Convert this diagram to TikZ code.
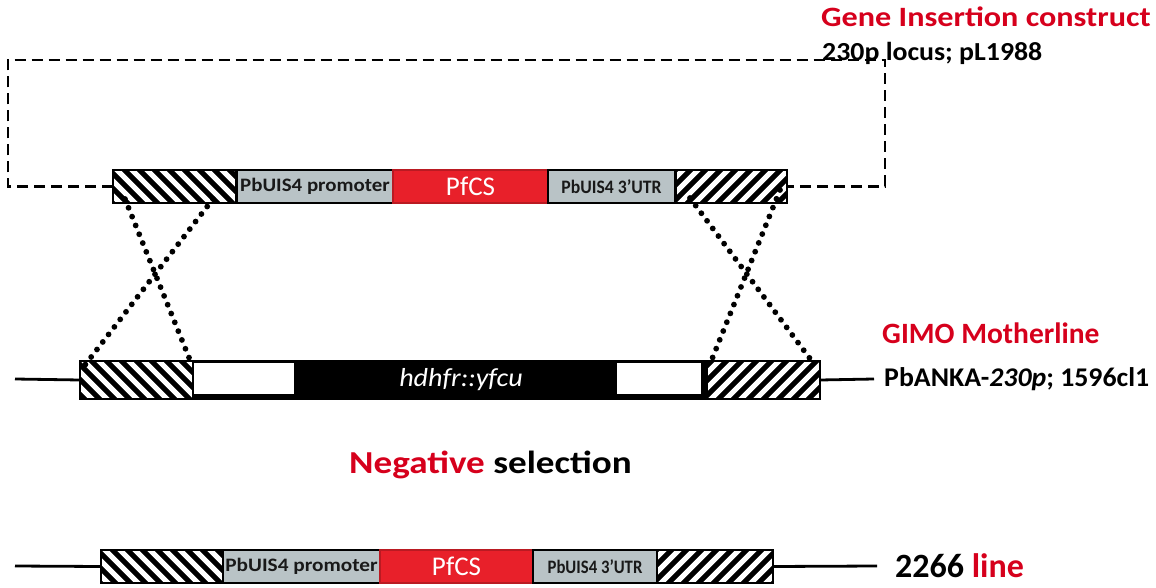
\documentclass[tikz,border=0pt]{standalone}
\usepackage{fontspec}
\usepackage{graphicx}
\setmainfont{Carlito}
\usetikzlibrary{calc}

\definecolor{labelred}{HTML}{D6001C}
\definecolor{boxred}{HTML}{E8202A}
\definecolor{utrgrey}{HTML}{B9C3C6}

% horizontally widened text
\newcommand{\wide}[2]{\scalebox{#1}[1]{#2}}

\tikzset{
  box/.style={draw=black, line width=2pt, inner sep=0pt, outer sep=0pt, anchor=north west},
  hatchback/.style={box, fill=black, path picture={
      \coordinate (hnw) at (path picture bounding box.north west);
      \foreach \k in {-3,...,12}
        \draw[white, line width=5pt] ([xshift=\k*15pt, yshift=4pt]hnw) -- ++(50pt,-50pt);
    }},
  hatchfwd/.style={box, fill=black, path picture={
      \coordinate (hsw) at (path picture bounding box.south west);
      \foreach \k in {-3,...,12}
        \draw[white, line width=5pt] ([xshift=\k*15pt, yshift=-4pt]hsw) -- ++(50pt,50pt);
    }},
  greybox/.style={box, fill=utrgrey, font=\bfseries\fontsize{19}{19}\selectfont, text=black!90},
  redbox/.style={box, fill=boxred, draw=boxred!80!black, font=\fontsize{27}{27}\selectfont, text=white},
  whitebox/.style={box, fill=white, draw=white},
  dashframe/.style={line width=2.8pt, dash pattern=on 11pt off 6pt},
  crossover/.style={line width=5.8pt, dash pattern=on 0pt off 9.5pt, line cap=round},
  chrom/.style={line width=2.8pt},
  txt/.style={anchor=west, inner sep=0pt},
}

\begin{document}
\begin{tikzpicture}[x=1pt, y=-1pt]
\useasboundingbox (0,0) rectangle (1156,588);

% ---------- gene insertion construct ----------
\node[hatchback, minimum width=123pt, minimum height=33pt] (tL) at (113,170) {};
\node[greybox, minimum width=156pt, minimum height=33pt] (tP) at (237,170) {\wide{1.1}{PbUIS4 promoter}};
\node[redbox, minimum width=155pt, minimum height=33pt] (tC) at (393,170) {PfCS};
\node[greybox, minimum width=127pt, minimum height=33pt] (tU) at (548,170) {\wide{0.93}{PbUIS4 3'UTR}};
\node[hatchfwd, minimum width=111pt, minimum height=33pt] (tR) at (676,170) {};

\coordinate (fTL) at (8,60);
\coordinate (fTR) at (885,60);
\draw[dashframe] (tL.west) -| (fTL) -- (fTR) |- (tR.east);

\node[txt, font=\bfseries\fontsize{28}{30}\selectfont, text=labelred] (gic) at (821,17)
  {\wide{1.15}{Gene Insertion construct}};
\node[txt, font=\bfseries\fontsize{26}{28}\selectfont] (loc) at (822,53)
  {\wide{1.07}{230p locus; pL1988}};

% ---------- GIMO motherline ----------
\node[box, fill=black, minimum width=740pt, minimum height=38pt] (mB) at (80,361) {};
\node[hatchback, minimum width=113pt, minimum height=38pt] (mL) at (80,361) {};
\node[whitebox, minimum width=98pt, minimum height=29pt] (mW1) at (195,364) {};
\node[whitebox, minimum width=82pt, minimum height=29pt] (mW2) at (618,364) {};
\node[hatchfwd, minimum width=113pt, minimum height=38pt] (mR) at (707,361) {};
\node[font=\itshape\fontsize{26}{26}\selectfont, text=white] (mG) at (461,380) {\wide{1.08}{hdhfr::yfcu}};

\coordinate (mLend) at (15,379);
\coordinate (mRend) at (874,379);
\draw[chrom] (mLend) -- (mB.west);
\draw[chrom] (mB.east) -- (mRend);

\node[txt, font=\bfseries\fontsize{29.5}{32}\selectfont, text=labelred] (gimo) at (882,333) {GIMO Motherline};
\node[txt, font=\bfseries\fontsize{27}{29}\selectfont] (pba) at (884,379)
  {\wide{1.03}{PbANKA-\textit{230p}; 1596cl1}};

% ---------- homologous crossovers ----------
\draw[crossover] ($(tL.south west)+(12pt,4pt)$) -- ($(mL.north east)+(-1pt,-4pt)$);
\draw[crossover] ($(tL.south east)+(-23pt,4pt)$) -- ($(mL.north west)+(5pt,-4pt)$);
\draw[crossover] ($(tR.south west)+(14pt,5pt)$) -- ($(mR.north east)+(-6pt,-3pt)$);
\draw[crossover] ($(tR.south east)+(-7pt,13pt)$) -- ($(mR.north west)+(3pt,-3pt)$);

% ---------- selection ----------
\node[txt, font=\bfseries\fontsize{32}{34}\selectfont] (neg) at (349,465)
  {\wide{1.16}{\textcolor{labelred}{Negative} selection}};

% ---------- 2266 line ----------
\node[hatchback, minimum width=122pt, minimum height=33pt] (bL) at (101,550) {};
\node[greybox, minimum width=157pt, minimum height=33pt] (bP) at (223,550) {\wide{1.12}{PbUIS4 promoter}};
\node[redbox, minimum width=153pt, minimum height=33pt] (bC) at (380,550) {PfCS};
\node[greybox, minimum width=124pt, minimum height=33pt] (bU) at (533,550) {\wide{0.88}{PbUIS4 3'UTR}};
\node[hatchfwd, minimum width=116pt, minimum height=33pt] (bR) at (657,550) {};

\coordinate (bLend) at (15,566);
\coordinate (bRend) at (877,566);
\draw[chrom] (bLend) -- (bL.west);
\draw[chrom] (bR.east) -- (bRend);

\node[txt, font=\bfseries\fontsize{34}{36}\selectfont] (line) at (895,566)
  {2266 \textcolor{labelred}{line}};
\end{tikzpicture}
\end{document}
